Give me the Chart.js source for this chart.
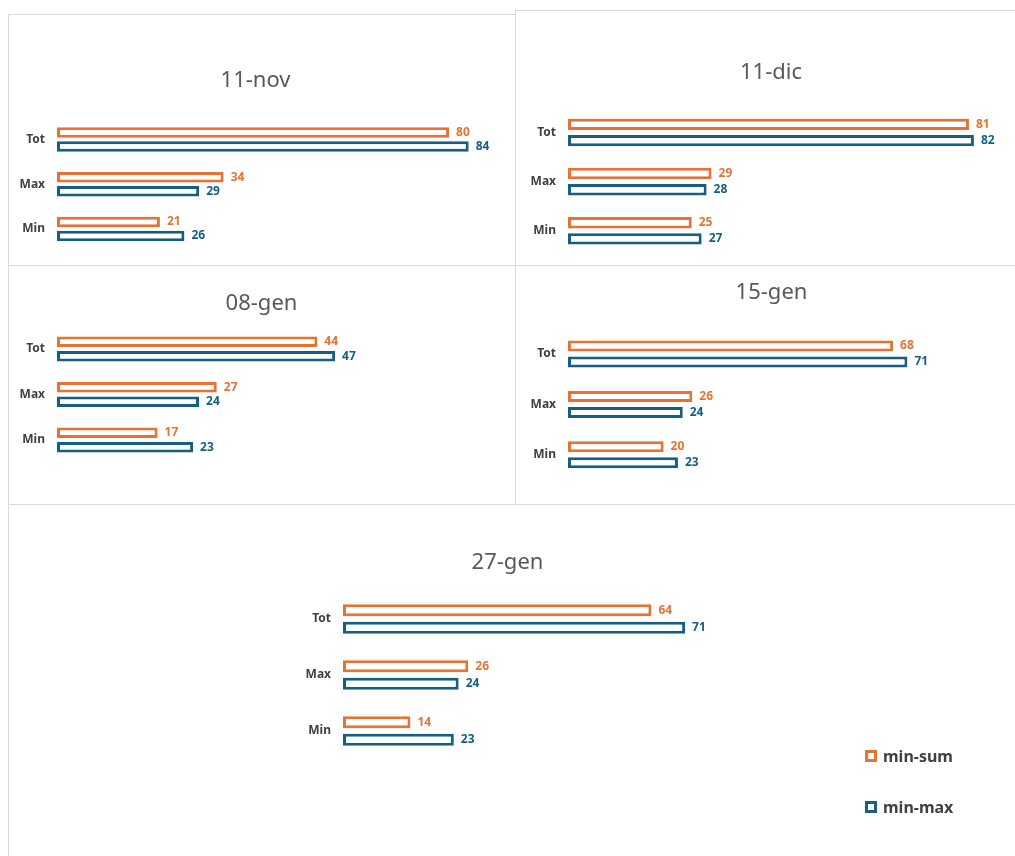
<!DOCTYPE html>
<html>
<head>
<meta charset="utf-8">
<title>min-sum / min-max</title>
<script src="https://cdn.jsdelivr.net/npm/chart.js@4.4.1/dist/chart.umd.min.js"></script>
<style>
  html, body { margin: 0; padding: 0; background: #ffffff; }
  body { position: relative; width: 1015px; height: 856px; overflow: hidden; font-family: "Noto Sans", sans-serif; }
  .panel { position: absolute; border: 1px solid #d9d9d9; box-sizing: border-box; }
  canvas { position: absolute; }
  .legend-item { position: absolute; display: flex; align-items: center; height: 20px;
                 font: bold 16px "Noto Sans", sans-serif; color: #404040; }
  .legend-box { width: 12px; height: 12px; box-sizing: border-box; border: 3px solid; background: #fff; margin-right: 6px; }
</style>
</head>
<body>
<div class="panel" style="left:8px;top:14px;width:508px;height:252px"></div>
<div class="panel" style="left:515px;top:10px;width:520px;height:256px"></div>
<div class="panel" style="left:8px;top:265px;width:508px;height:240px"></div>
<div class="panel" style="left:515px;top:265px;width:520px;height:240px"></div>
<div class="panel" style="left:8px;top:504px;width:1020px;height:400px"></div>

<canvas id="c1"></canvas>
<canvas id="c2"></canvas>
<canvas id="c3"></canvas>
<canvas id="c4"></canvas>
<canvas id="c5"></canvas>
<div id="legend"></div>

<script>
// ---- data ----
const categories = ['Tot', 'Max', 'Min'];
const seriesNames = ['min-sum', 'min-max'];
const dateTitles = ['11-nov', '11-dic', '08-gen', '15-gen', '27-gen'];

const minSumNov11 = [80, 34, 21];
const minMaxNov11 = [84, 29, 26];
const minSumDic11 = [81, 29, 25];
const minMaxDic11 = [82, 28, 27];
const minSumGen08 = [44, 27, 17];
const minMaxGen08 = [47, 24, 23];
const minSumGen15 = [68, 26, 20];
const minMaxGen15 = [71, 24, 23];
const minSumGen27 = [64, 26, 14];
const minMaxGen27 = [71, 24, 23];

// ---- styling ----
const ORANGE = '#E97132';
const BLUE = '#156082';
const seriesColors = [ORANGE, BLUE];
const FONT = '"Noto Sans", sans-serif';

// Layout of each small chart: canvas box, paddings, axis width and scale range
const layouts = [
  { id: 'c1', left: 8,   top: 14,  w: 507,  h: 251, padL: 0,  padR: 12, padB: 13.6, tp: 53.2, bp: 23.5, axisW: 49,  xMax: 91.0,  cat: 0.626, bar: 0.75 },
  { id: 'c2', left: 515, top: 10,  w: 500,  h: 255, padL: 12, padR: 0,  padB: 9.6,  tp: 49.6, bp: 21.9, axisW: 41,  xMax: 90.3,  cat: 0.66,  bar: 0.70 },
  { id: 'c3', left: 8,   top: 265, w: 507,  h: 240, padL: 0,  padR: 0,  padB: 42.3, tp: 25.4, bp: 9.5,  axisW: 49,  xMax: 77.4,  cat: 0.637, bar: 0.72 },
  { id: 'c4', left: 515, top: 265, w: 500,  h: 240, padL: 13, padR: 0,  padB: 25.0, tp: 14.6, bp: 22.8, axisW: 40,  xMax: 93.5,  cat: 0.634, bar: 0.69 },
  { id: 'c5', left: 8,   top: 505, w: 1007, h: 351, padL: 0,  padR: 8,  padB: 97,   tp: 44.4, bp: 15.2, axisW: 335, xMax: 137.8, cat: 0.625, bar: 0.686 }
];

const seriesPairs = [
  [minSumNov11, minMaxNov11],
  [minSumDic11, minMaxDic11],
  [minSumGen08, minMaxGen08],
  [minSumGen15, minMaxGen15],
  [minSumGen27, minMaxGen27]
];

// Value labels written just past the end of each bar, in the bar's colour
const valueLabels = {
  id: 'valueLabels',
  afterDatasetsDraw(chart) {
    const ctx = chart.ctx;
    ctx.save();
    ctx.font = 'bold 12px ' + FONT;
    ctx.textAlign = 'left';
    ctx.textBaseline = 'middle';
    chart.data.datasets.forEach((ds, i) => {
      const meta = chart.getDatasetMeta(i);
      ctx.fillStyle = ds.borderColor;
      meta.data.forEach((bar, j) => {
        ctx.fillText(String(ds.data[j]), bar.x + 7, bar.y);
      });
    });
    ctx.restore();
  }
};

function buildChart(L, title, pair) {
  const canvas = document.getElementById(L.id);
  canvas.width = L.w;
  canvas.height = L.h;
  canvas.style.left = L.left + 'px';
  canvas.style.top = L.top + 'px';
  canvas.style.width = L.w + 'px';
  canvas.style.height = L.h + 'px';

  return new Chart(canvas, {
    type: 'bar',
    data: {
      labels: categories,
      datasets: pair.map((vals, k) => ({
        label: seriesNames[k],
        data: vals,
        backgroundColor: '#ffffff',
        borderColor: seriesColors[k],
        borderWidth: 3,
        borderSkipped: false,
        categoryPercentage: L.cat,
        barPercentage: L.bar
      }))
    },
    options: {
      indexAxis: 'y',
      responsive: false,
      maintainAspectRatio: false,
      devicePixelRatio: 1,
      animation: false,
      events: [],
      layout: { padding: { left: L.padL, right: L.padR, top: 0, bottom: L.padB } },
      plugins: {
        legend: { display: false },
        tooltip: { enabled: false },
        title: {
          display: true,
          text: title,
          color: '#595959',
          font: { family: FONT, size: 22, weight: 'normal', lineHeight: 1.2 },
          padding: { top: L.tp, bottom: L.bp }
        }
      },
      scales: {
        x: { display: false, min: 0, max: L.xMax },
        y: {
          grid: { display: false, drawTicks: false },
          border: { display: false },
          ticks: { color: '#404040', font: { family: FONT, size: 12, weight: 'bold' }, padding: 12 },
          afterFit(scale) {
            scale.width = L.axisW;
            // keep the category band flush with the layout padding
            scale.paddingTop = 0;
            scale.paddingBottom = 0;
          }
        }
      }
    },
    plugins: [valueLabels]
  });
}

layouts.forEach((L, i) => buildChart(L, dateTitles[i], seriesPairs[i]));

// Series key in the lower right corner
const legendPos = [{ left: 865, top: 746 }, { left: 865, top: 797 }];
const legend = document.getElementById('legend');
seriesNames.forEach((name, k) => {
  const item = document.createElement('div');
  item.className = 'legend-item';
  item.style.left = legendPos[k].left + 'px';
  item.style.top = legendPos[k].top + 'px';
  const box = document.createElement('span');
  box.className = 'legend-box';
  box.style.borderColor = seriesColors[k];
  item.appendChild(box);
  item.appendChild(document.createTextNode(name));
  legend.appendChild(item);
});
</script>
</body>
</html>
